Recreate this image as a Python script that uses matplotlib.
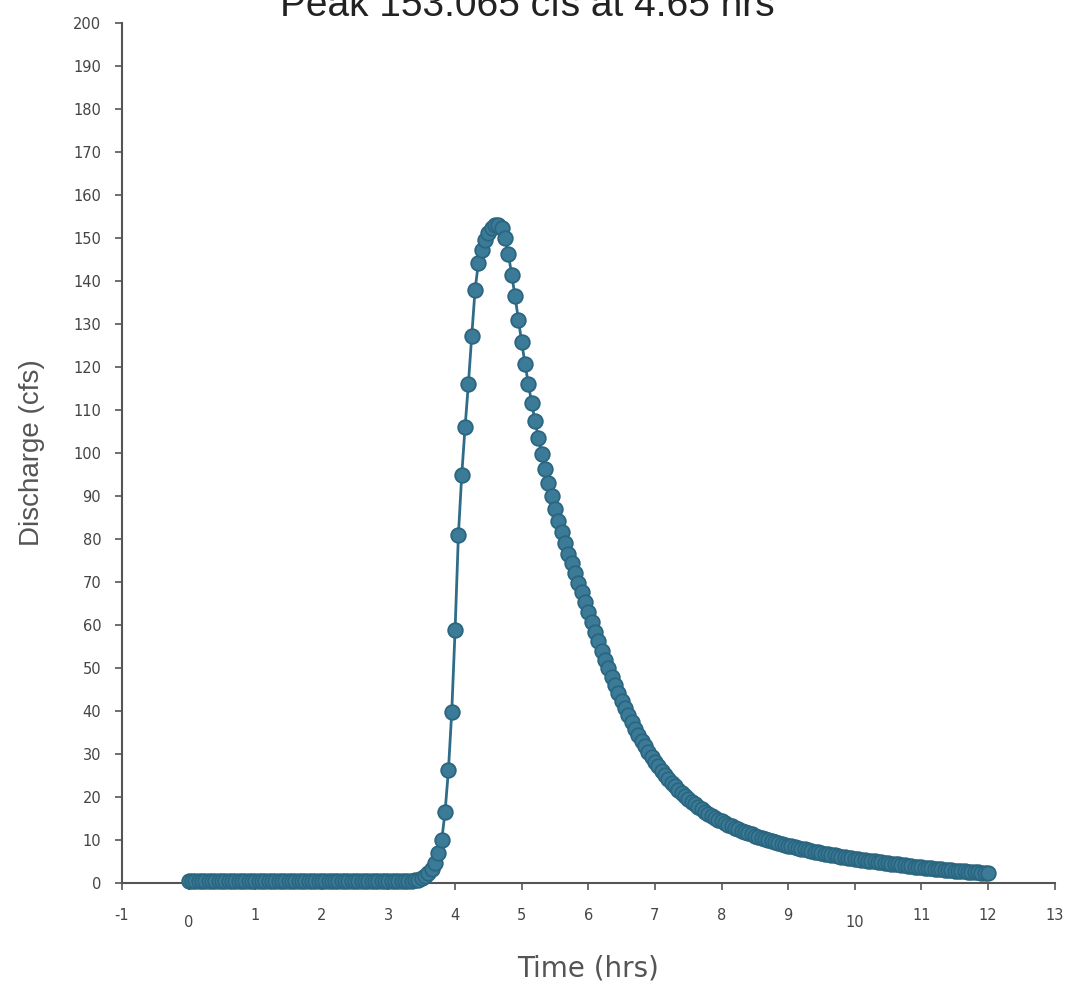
import numpy as np
import matplotlib
matplotlib.use("Agg")
import matplotlib.pyplot as plt
import matplotlib.transforms as mtransforms

# Hydrograph, 0.05 hr steps from 0 to 12 hrs
time_step = 0.05
flat_part = [0.5] * 68  # 0.00 .. 3.35 hrs
rising = [0.6, 0.8, 1.1, 1.6, 2.3, 3.3, 4.7, 6.9, 10.0, 16.6, 26.2, 39.8,
          58.8, 81.0, 94.9, 106.0, 116.1, 127.2, 137.9, 144.2, 147.2, 149.4,
          151.1, 152.3, 152.9, 153.065]  # 3.40 .. 4.65 hrs
falling = [152.3, 150.0, 146.2, 141.4, 136.4, 131.0, 125.7, 120.7, 116.0,
           111.6, 107.4, 103.5, 99.8, 96.3, 93.0, 89.9, 87.0, 84.2, 81.5,
           79.0, 76.6, 74.3, 72.0, 69.8, 67.6, 65.4,  # 4.70 .. 5.95
           63.0, 60.7, 58.4, 56.2, 54.0, 51.9, 49.9, 47.9, 46.0, 44.2,
           42.4, 40.6, 39.0, 37.4, 35.9, 34.5, 33.1, 31.8, 30.5, 29.3,  # 6.00 .. 6.95
           28.2, 27.1, 26.1, 25.1, 24.2, 23.3, 22.5, 21.7, 20.9, 20.2,
           19.5, 18.9, 18.3, 17.7, 17.1, 16.6, 16.1, 15.6, 15.1, 14.7,  # 7.00 .. 7.95
           14.3, 13.9, 13.5, 13.2, 12.8, 12.5, 12.2, 11.9, 11.6, 11.3,
           11.0, 10.7, 10.5, 10.2, 10.0, 9.7, 9.5, 9.3, 9.1, 8.9,  # 8.00 .. 8.95
           8.7, 8.5, 8.3, 8.1, 7.9, 7.8, 7.6, 7.4, 7.3, 7.1,
           7.0, 6.8, 6.7, 6.5, 6.4, 6.3, 6.1, 6.0, 5.9, 5.8,  # 9.00 .. 9.95
           5.6, 5.5, 5.4, 5.3, 5.2, 5.1, 5.0, 4.9, 4.8, 4.7,
           4.6, 4.5, 4.4, 4.3, 4.2, 4.1, 4.0, 3.9, 3.8, 3.7,  # 10.00 .. 10.95
           3.6, 3.5, 3.45, 3.4, 3.3, 3.2, 3.15, 3.1, 3.0, 2.95,
           2.9, 2.8, 2.75, 2.7, 2.6, 2.55, 2.5, 2.45, 2.4, 2.3,  # 11.00 .. 11.95
           2.25]  # 12.00
discharge = np.array(flat_part + rising + falling)
hours = np.arange(len(discharge)) * time_step

peak_q = 153.065
peak_t = 4.65
x_ticks = list(range(-1, 14))
y_ticks = list(range(0, 201, 10))

line_col = "#2f6c87"
axis_col = "#555555"
text_col = "#555555"
tick_font = ["Liberation Sans Narrow", "DejaVu Sans"]

fig = plt.figure(figsize=(10.72, 9.91), dpi=100)
ax = fig.add_axes([0.1138, 0.109, 0.870, 0.868])

ax.plot(hours, discharge, color=line_col, lw=2, marker="o", markersize=10.5,
        markerfacecolor="#3b7b97", markeredgecolor="#2a6680", markeredgewidth=1.3,
        clip_on=False, zorder=3)

ax.set_xlim(-1, 13)
ax.set_ylim(0, 200)
ax.set_xticks(x_ticks)
ax.set_yticks(y_ticks)
ax.set_xticklabels([str(t) for t in x_ticks], family=tick_font, fontsize=10.5, color="#444444")
ax.set_yticklabels([str(t) for t in y_ticks], family=tick_font, fontsize=10.5, color="#444444")

for side in ["top", "right"]:
    ax.spines[side].set_visible(False)
for side in ["left", "bottom"]:
    ax.spines[side].set_color(axis_col)
    ax.spines[side].set_linewidth(1.5)

ax.tick_params(axis="x", direction="out", length=5, width=1.2, color=axis_col, pad=13)
ax.tick_params(axis="y", direction="out", length=5, width=1.2, color=axis_col, pad=10)

# the 0 and 10 labels sit a little lower in the reference
shift = mtransforms.ScaledTranslation(0, -7 / 100, fig.dpi_scale_trans)
for lab in ax.get_xticklabels():
    if lab.get_text() in ("0", "10"):
        lab.set_transform(lab.get_transform() + shift)

ax.set_xlabel("Time (hrs)", fontsize=20, color=text_col, labelpad=18,
              family=["Liberation Sans Narrow", "DejaVu Sans"])
ax.set_ylabel("Discharge (cfs)", fontsize=20, color=text_col, labelpad=20,
              family=["Liberation Sans", "DejaVu Sans"])

fig.text(0.492, 0.9835, "Peak %.3f cfs at %.2f hrs" % (peak_q, peak_t),
         ha="center", va="baseline", fontsize=28, color="#222222",
         family=["Liberation Sans", "DejaVu Sans"])

fig.savefig("out.png", dpi=100)
